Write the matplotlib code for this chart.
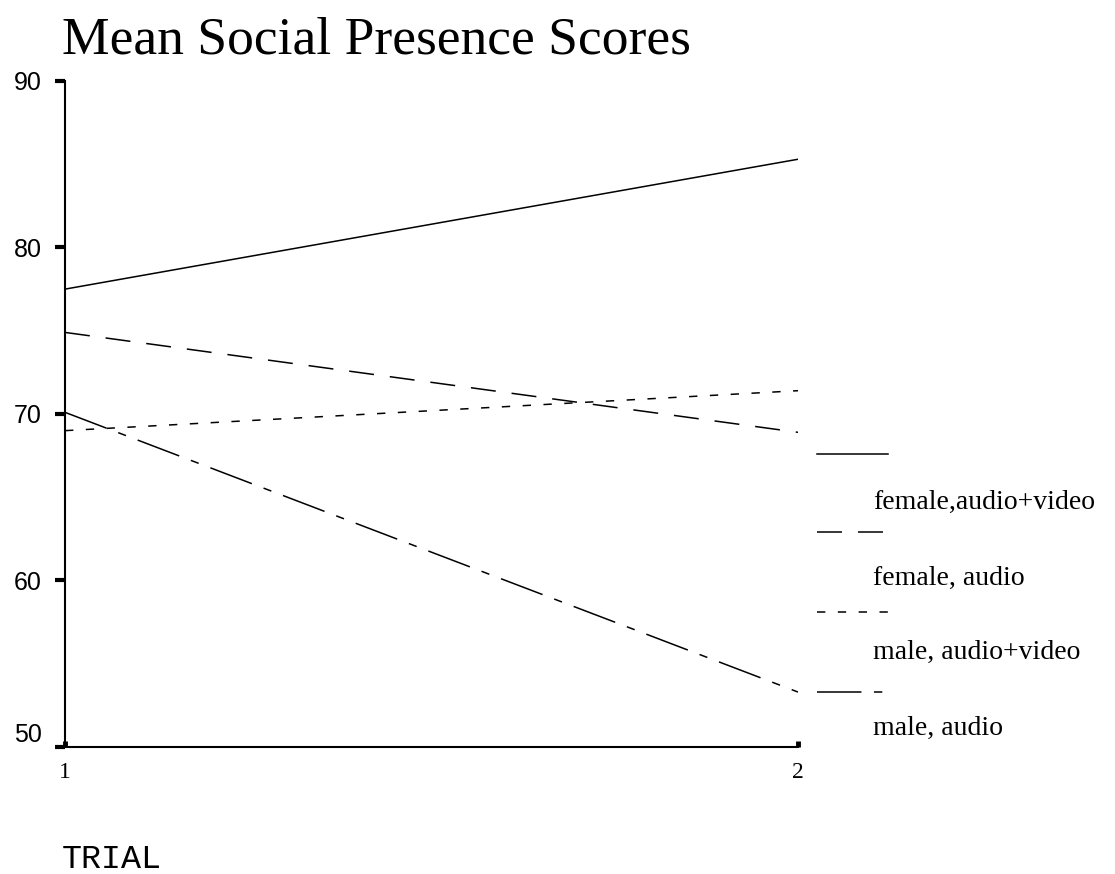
import matplotlib
matplotlib.use("Agg")
import matplotlib.pyplot as plt
from matplotlib.lines import Line2D

# values
trials = [1, 2]
female_av = [77.5, 85.3]
female_a = [74.9, 68.9]
male_av = [69.0, 71.4]
male_a = [70.1, 53.3]

labels = ["female,audio+video", "female, audio", "male, audio+video", "male, audio"]
yticks = [50, 60, 70, 80, 90]

plt.rcParams['lines.scale_dashes'] = False

W, H = 1115, 874
fig = plt.figure(figsize=(W / 100, H / 100), dpi=100)
ax = fig.add_axes([65 / W, 1 - 747 / H, (798 - 65) / W, (747 - 81) / H])

styles = [
    dict(linestyle='-'),
    dict(dashes=(18, 11.5)),
    dict(dashes=(6, 9)),
    dict(dashes=(32, 9, 6, 9)),
]
series = [female_av, female_a, male_av, male_a]
for vals, st in zip(series, styles):
    ax.plot(trials, vals, color='black', lw=1.1, **st)

ax.set_xlim(1, 2)
ax.set_ylim(50, 90)
for s in ['top', 'right']:
    ax.spines[s].set_visible(False)
for s in ['left', 'bottom']:
    ax.spines[s].set_linewidth(1.5)

ax.set_yticks(yticks)
ax.set_yticklabels([str(v) for v in yticks], fontfamily='Liberation Sans', fontsize=18)
ax.tick_params(axis='y', direction='out', length=7.5, width=3, pad=9)
ax.set_xticks(trials)
ax.set_xticklabels([str(t) for t in trials], fontfamily='Liberation Serif', fontsize=17)
ax.tick_params(axis='x', direction='in', length=4, width=3.5, pad=11)
for lab in ax.get_yticklabels():
    if lab.get_text() == '50':
        lab.set_va('bottom')

fig.text(62 / W, 1 - 53 / H, "Mean Social Presence Scores",
         fontfamily='Liberation Serif', fontsize=38.5, va='baseline', ha='left')
fig.text(62 / W, 1 - 868 / H, "TRIAL", fontfamily='Liberation Mono',
         fontsize=24, va='baseline', ha='left')

# legend: line sample above each label
sample_y = [454, 532, 612, 692]
text_y = [502, 578, 652, 728]
for st, sy, ty, lab in zip(styles, sample_y, text_y, labels):
    fig.add_artist(Line2D([817 / W, 888 / W], [1 - sy / H, 1 - sy / H],
                          color='black', lw=1.1, **st))
    fig.text(873 / W, 1 - ty / H, lab, fontfamily='Liberation Serif',
             fontsize=20, va='center', ha='left')

fig.savefig("out.png", dpi=100)
